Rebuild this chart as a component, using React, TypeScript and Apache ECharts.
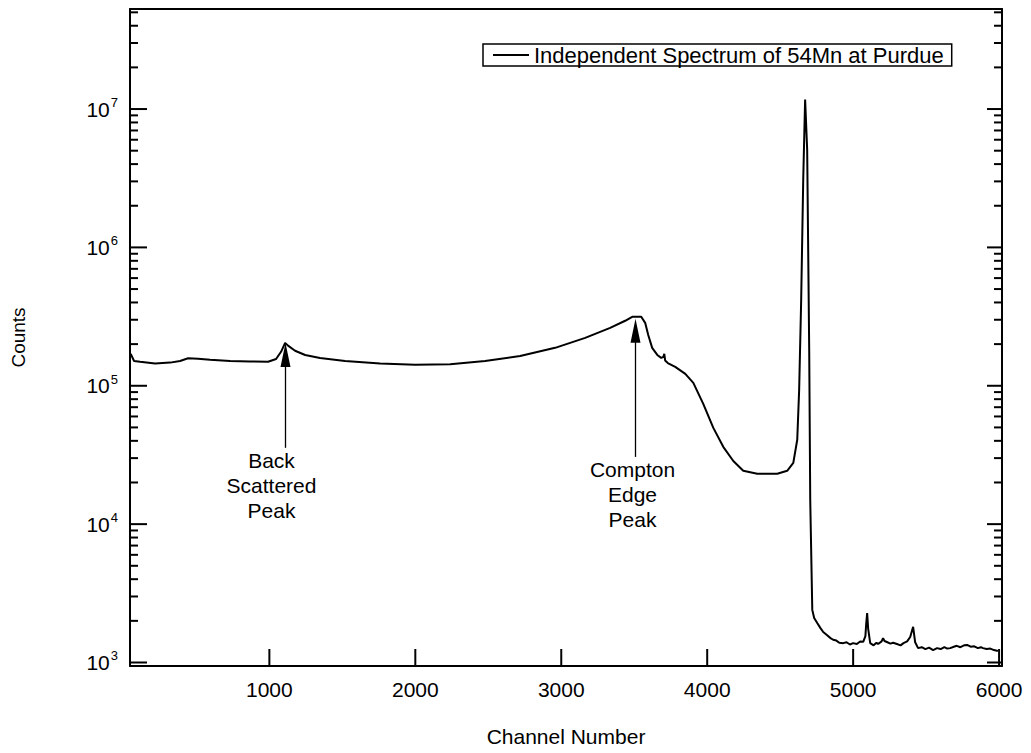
import React, { useEffect, useRef } from "react";
import * as echarts from "echarts";

const seriesName = "Independent Spectrum of 54Mn at Purdue";

const channels = [
  50, 73, 114, 217, 320, 388, 443, 511, 594, 731, 868, 991, 1046, 1080, 1108, 1128, 1176, 1245, 1347, 1519,
  1759, 1999, 2239, 2478, 2718, 2958, 3164, 3335, 3438, 3486, 3548, 3575, 3596, 3623, 3658, 3685, 3700, 3706,
  3712, 3730, 3781, 3850, 3905, 3973, 4042, 4110, 4179, 4247, 4343, 4480, 4548, 4590, 4617, 4630, 4644, 4658,
  4671, 4685, 4699, 4706, 4720, 4733, 4754, 4775, 4795, 4820, 4845, 4863, 4885, 4905, 4932, 4955, 4978, 5000,
  5025, 5048, 5069, 5084, 5089, 5096, 5103, 5117, 5140, 5160, 5171, 5195, 5205, 5215, 5235, 5255, 5274, 5300,
  5325, 5345, 5370, 5391, 5411, 5425, 5445, 5470, 5495, 5520, 5548, 5575, 5600, 5625, 5645, 5665, 5690, 5710,
  5735, 5760, 5781, 5805, 5830, 5855, 5875, 5890, 5915, 5940, 5965, 5992,
];

const counts = [
  1.7e5, 1.51e5, 1.49e5, 1.45e5, 1.47e5, 1.51e5, 1.58e5, 1.57e5, 1.54e5, 1.51e5, 1.5e5, 1.49e5, 1.56e5, 1.76e5,
  2.04e5, 1.95e5, 1.79e5, 1.67e5, 1.59e5, 1.51e5, 1.45e5, 1.42e5, 1.43e5, 1.51e5, 1.64e5, 1.88e5, 2.22e5,
  2.62e5, 2.95e5, 3.15e5, 3.15e5, 2.85e5, 2.33e5, 1.88e5, 1.67e5, 1.59e5, 1.62e5, 1.7e5, 1.52e5, 1.46e5,
  1.37e5, 1.22e5, 1.05e5, 7.4e4, 4.96e4, 3.62e4, 2.86e4, 2.43e4, 2.31e4, 2.31e4, 2.43e4, 2.77e4, 4.07e4,
  9.3e4, 4.2e5, 3.1e6, 1.17e7, 5.1e6, 1.8e5, 1.5e4, 2.4e3, 2.1e3, 1.93e3, 1.78e3, 1.66e3, 1.58e3, 1.5e3,
  1.46e3, 1.44e3, 1.39e3, 1.38e3, 1.4e3, 1.35e3, 1.38e3, 1.36e3, 1.42e3, 1.41e3, 1.55e3, 1.87e3, 2.28e3,
  1.75e3, 1.38e3, 1.33e3, 1.39e3, 1.36e3, 1.42e3, 1.5e3, 1.43e3, 1.4e3, 1.37e3, 1.39e3, 1.36e3, 1.33e3,
  1.38e3, 1.42e3, 1.53e3, 1.81e3, 1.4e3, 1.27e3, 1.29e3, 1.25e3, 1.28e3, 1.23e3, 1.27e3, 1.25e3, 1.29e3,
  1.26e3, 1.27e3, 1.3e3, 1.32e3, 1.29e3, 1.33e3, 1.34e3, 1.3e3, 1.31e3, 1.27e3, 1.29e3, 1.27e3, 1.25e3,
  1.26e3, 1.23e3, 1.21e3,
];

const xTickValues = [1000, 2000, 3000, 4000, 5000, 6000];
const decadeExponents = [3, 4, 5, 6, 7];

const annotationLabels = ["Back\nScattered\nPeak", "Compton\nEdge\nPeak"];
const annotationChannels = [1104, 3506];
const annotationTipCounts = [2.04e5, 3.05e5];
const annotationTailCounts = [3.56e4, 3.06e4];
const annotationTextOffsets = [-14, -3];

const X_MIN = 45;
const X_MAX = 6020;
const Y_MIN = 2.9747;
const Y_MAX = 7.723;
const FONT = '"Liberation Sans", Arial, Helvetica, sans-serif';

function minorTicks(): number[] {
  const out: number[] = [];
  for (let n = 2; n <= 7; n++) {
    for (let k = 2; k <= 9; k++) {
      const v = Math.log10(k * Math.pow(10, n));
      if (v > Y_MIN && v < Y_MAX) out.push(v);
    }
  }
  return out;
}

export default function App() {
  const ref = useRef<HTMLDivElement>(null);

  useEffect(() => {
    if (!ref.current) return;
    const chart = echarts.init(ref.current, null, { renderer: "svg" });
    const minor = minorTicks();
    const black = "#000";

    const baseY = {
      type: "value" as const,
      min: Y_MIN,
      max: Y_MAX,
      splitLine: { show: false },
      axisTick: { show: false },
    };

    chart.setOption({
      animation: false,
      backgroundColor: "#fff",
      grid: { left: 130, right: 29, top: 9, bottom: 87, containLabel: false },
      legend: {
        show: true,
        left: 483,
        top: 44,
        data: [{ name: seriesName, icon: "rect" }],
        itemWidth: 36,
        itemHeight: 2,
        padding: [0, 8, 0, 10],
        borderColor: black,
        borderWidth: 1.5,
        textStyle: { fontSize: 22, fontFamily: FONT, color: black },
      },
      xAxis: [
        {
          type: "value",
          position: "bottom",
          min: X_MIN,
          max: X_MAX,
          splitLine: { show: false },
          axisLine: { show: true, onZero: false, lineStyle: { color: black, width: 2 } },
          axisTick: { show: false },
          axisLabel: {
            customValues: xTickValues,
            formatter: (v: number) => String(v),
            fontSize: 21,
            fontFamily: FONT,
            color: black,
            margin: 13,
          },
          name: "Channel Number",
          nameLocation: "middle",
          nameGap: 60,
          nameTextStyle: { fontSize: 21, fontFamily: FONT, color: black },
        },
        {
          type: "value",
          position: "top",
          min: X_MIN,
          max: X_MAX,
          splitLine: { show: false },
          axisLine: { show: true, onZero: false, lineStyle: { color: black, width: 2 } },
          axisTick: { show: false },
          axisLabel: { show: false },
        },
      ],
      yAxis: [
        {
          ...baseY,
          position: "left",
          axisLine: { show: true, onZero: false, lineStyle: { color: black, width: 2 } },
          axisLabel: {
            customValues: decadeExponents,
            formatter: (v: number) => `{b|10}{s|${Math.round(v)}}`,
            margin: 12,
            rich: {
              b: { fontSize: 21, fontFamily: FONT, color: black, lineHeight: 26 },
              s: { fontSize: 13, fontFamily: FONT, color: black, verticalAlign: "top", padding: [0, 0, 0, 1] },
            },
          },
          name: "Counts",
          nameLocation: "middle",
          nameGap: 102,
          nameTextStyle: { fontSize: 19, fontFamily: FONT, color: black },
        },
        {
          ...baseY,
          position: "right",
          axisLine: { show: true, onZero: false, lineStyle: { color: black, width: 2 } },
          axisLabel: { show: false },
        },
      ],
      series: [
        {
          name: seriesName,
          type: "line",
          xAxisIndex: 0,
          yAxisIndex: 0,
          showSymbol: false,
          symbol: "none",
          data: channels.map((c, i) => [c, Math.log10(counts[i])]),
          lineStyle: { color: black, width: 2 },
          itemStyle: { color: black },
        },
      ],
    });

    const toPx = (x: number, y: number) => chart.convertToPixel({ gridIndex: 0 }, [x, y]) as number[];
    const graphics: any[] = [];
    const tick = (x: number, y: number, dx: number, dy: number) => {
      const p = toPx(x, y);
      graphics.push({
        type: "rect",
        silent: true,
        z: 100,
        shape: {
          x: dx === 0 ? p[0] - 1 : Math.min(p[0], p[0] + dx),
          y: dy === 0 ? p[1] - 1 : Math.min(p[1], p[1] + dy),
          width: dx === 0 ? 2 : Math.abs(dx),
          height: dy === 0 ? 2 : Math.abs(dy),
        },
        style: { fill: "#000" },
      });
    };
    xTickValues.forEach((v) => tick(v, Y_MIN, 0, -17));
    decadeExponents.forEach((v) => {
      tick(X_MIN, v, 17, 0);
      tick(X_MAX, v, -15, 0);
    });
    minor.forEach((v) => {
      tick(X_MIN, v, 8, 0);
      tick(X_MAX, v, -8, 0);
    });

    annotationLabels.forEach((label, i) => {
      const tip = toPx(annotationChannels[i], Math.log10(annotationTipCounts[i]));
      const tail = toPx(annotationChannels[i], Math.log10(annotationTailCounts[i]));
      const x = Math.round(tip[0]) + 0.5;
      const headLen = 24;
      const headHalf = 5;
      graphics.push({
        type: "line",
        shape: { x1: x, y1: tail[1], x2: x, y2: tip[1] + headLen - 2 },
        style: { stroke: "#000", lineWidth: 1.3 },
        silent: true,
      });
      graphics.push({
        type: "polygon",
        shape: { points: [[x, tip[1]], [x - headHalf, tip[1] + headLen], [x + headHalf, tip[1] + headLen]] },
        style: { fill: "#000" },
        silent: true,
      });
      graphics.push({
        type: "text",
        x: x + annotationTextOffsets[i],
        y: tail[1],
        style: {
          text: label,
          textAlign: "center",
          textVerticalAlign: "top",
          font: `21px ${FONT}`,
          lineHeight: 25,
          fill: "#000",
        },
        silent: true,
      });
    });
    chart.setOption({ graphic: graphics });

    return () => chart.dispose();
  }, []);

  return (
    <div
      ref={ref}
      style={{ position: "fixed", left: 0, top: 0, width: 1031, height: 753, background: "#fff" }}
    />
  );
}
